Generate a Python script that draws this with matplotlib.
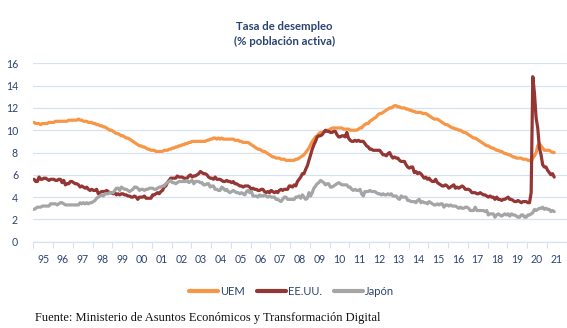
"""
Tasa de desempleo: UEM, EE.UU. y Japón, datos mensuales 1995-2021.
"""

import matplotlib

matplotlib.use("Agg")

import matplotlib.pyplot as plt
import numpy as np
from matplotlib.ticker import FixedLocator, NullFormatter

# Monthly unemployment rates (% of labour force), Jan-1995 .. May-2021
uem = [
    10.7, 10.6, 10.6, 10.6, 10.5, 10.6, 10.6, 10.6, 10.6, 10.7, 10.7, 10.7,  # 1995
    10.7, 10.8, 10.8, 10.8, 10.8, 10.8, 10.8, 10.8, 10.8, 10.9, 10.9, 10.9,  # 1996
    10.9, 10.9, 10.9, 11.0, 10.9, 10.9, 10.8, 10.8, 10.8, 10.7, 10.7, 10.7,  # 1997
    10.6, 10.6, 10.5, 10.5, 10.4, 10.4, 10.3, 10.3, 10.2, 10.1, 10.0, 10.0,  # 1998
    9.9, 9.8, 9.7, 9.7, 9.6, 9.5, 9.5, 9.4, 9.3, 9.3, 9.2, 9.1,  # 1999
    9.0, 8.9, 8.8, 8.7, 8.6, 8.6, 8.5, 8.5, 8.4, 8.3, 8.3, 8.2,  # 2000
    8.2, 8.2, 8.1, 8.1, 8.1, 8.1, 8.1, 8.2, 8.2, 8.2, 8.3, 8.3,  # 2001
    8.4, 8.4, 8.5, 8.5, 8.6, 8.6, 8.7, 8.7, 8.8, 8.8, 8.9, 8.9,  # 2002
    9.0, 9.0, 9.0, 9.0, 9.0, 9.0, 9.0, 9.0, 9.0, 9.1, 9.1, 9.2,  # 2003
    9.2, 9.3, 9.3, 9.2, 9.3, 9.2, 9.3, 9.2, 9.2, 9.2, 9.2, 9.2,  # 2004
    9.2, 9.2, 9.1, 9.1, 9.1, 9.0, 9.0, 8.9, 8.9, 8.9, 8.9, 8.8,  # 2005
    8.7, 8.6, 8.5, 8.4, 8.3, 8.3, 8.2, 8.1, 8.1, 8.0, 7.9, 7.8,  # 2006
    7.7, 7.6, 7.6, 7.5, 7.5, 7.5, 7.4, 7.4, 7.4, 7.3, 7.3, 7.3,  # 2007
    7.3, 7.3, 7.3, 7.4, 7.4, 7.5, 7.6, 7.7, 7.8, 8.0, 8.2, 8.4,  # 2008
    8.7, 9.0, 9.2, 9.4, 9.5, 9.7, 9.8, 9.8, 9.9, 9.9, 10.0, 10.0,  # 2009
    10.1, 10.2, 10.2, 10.2, 10.2, 10.2, 10.2, 10.2, 10.1, 10.1, 10.1, 10.1,  # 2010
    10.0, 10.0, 10.0, 10.0, 10.0, 10.1, 10.2, 10.2, 10.4, 10.5, 10.6, 10.6,  # 2011
    10.8, 10.9, 11.0, 11.1, 11.2, 11.4, 11.5, 11.5, 11.6, 11.7, 11.8, 11.9,  # 2012
    12.0, 12.0, 12.1, 12.2, 12.2, 12.1, 12.1, 12.0, 12.0, 12.0, 11.9, 11.9,  # 2013
    11.8, 11.8, 11.7, 11.7, 11.6, 11.6, 11.6, 11.6, 11.5, 11.5, 11.5, 11.4,  # 2014
    11.3, 11.2, 11.1, 11.0, 11.0, 11.0, 10.9, 10.8, 10.7, 10.6, 10.5, 10.5,  # 2015
    10.4, 10.3, 10.2, 10.2, 10.1, 10.1, 10.0, 10.0, 9.9, 9.8, 9.8, 9.7,  # 2016
    9.6, 9.5, 9.4, 9.3, 9.3, 9.2, 9.1, 9.0, 8.9, 8.8, 8.7, 8.6,  # 2017
    8.6, 8.5, 8.4, 8.4, 8.3, 8.2, 8.2, 8.1, 8.1, 8.0, 7.9, 7.9,  # 2018
    7.8, 7.8, 7.7, 7.6, 7.6, 7.5, 7.5, 7.5, 7.5, 7.4, 7.4, 7.4,  # 2019
    7.3, 7.3, 7.2, 7.5, 7.7, 8.0, 8.6, 8.8, 8.6, 8.4, 8.2, 8.2,  # 2020
    8.2, 8.2, 8.1, 8.0, 8.0,  # 2021
]

eeuu = [
    5.6, 5.4, 5.4, 5.8, 5.6, 5.6, 5.7, 5.7, 5.6, 5.5, 5.6, 5.6,  # 1995
    5.6, 5.5, 5.5, 5.6, 5.6, 5.3, 5.5, 5.1, 5.2, 5.2, 5.4, 5.4,  # 1996
    5.3, 5.2, 5.2, 5.1, 4.9, 5.0, 4.9, 4.8, 4.9, 4.7, 4.6, 4.7,  # 1997
    4.6, 4.6, 4.7, 4.3, 4.4, 4.5, 4.5, 4.5, 4.6, 4.5, 4.4, 4.4,  # 1998
    4.3, 4.4, 4.2, 4.3, 4.2, 4.3, 4.3, 4.2, 4.2, 4.1, 4.1, 4.0,  # 1999
    4.0, 4.1, 4.0, 3.8, 4.0, 4.0, 4.0, 4.1, 3.9, 3.9, 3.9, 3.9,  # 2000
    4.2, 4.2, 4.3, 4.4, 4.3, 4.5, 4.6, 4.9, 5.0, 5.3, 5.5, 5.7,  # 2001
    5.7, 5.7, 5.7, 5.9, 5.8, 5.8, 5.8, 5.7, 5.7, 5.7, 5.9, 6.0,  # 2002
    5.8, 5.9, 5.9, 6.0, 6.1, 6.3, 6.2, 6.1, 6.1, 6.0, 5.8, 5.7,  # 2003
    5.7, 5.6, 5.8, 5.6, 5.6, 5.6, 5.5, 5.4, 5.4, 5.5, 5.4, 5.4,  # 2004
    5.3, 5.4, 5.2, 5.2, 5.1, 5.0, 5.0, 4.9, 5.0, 5.0, 5.0, 4.9,  # 2005
    4.7, 4.8, 4.7, 4.7, 4.6, 4.6, 4.7, 4.7, 4.5, 4.4, 4.5, 4.4,  # 2006
    4.6, 4.5, 4.4, 4.5, 4.4, 4.6, 4.7, 4.6, 4.7, 4.7, 4.7, 5.0,  # 2007
    5.0, 4.9, 5.1, 5.0, 5.4, 5.6, 5.8, 6.1, 6.1, 6.5, 6.8, 7.3,  # 2008
    7.8, 8.3, 8.7, 9.0, 9.4, 9.5, 9.5, 9.6, 9.8, 10.0, 9.9, 9.9,  # 2009
    9.8, 9.8, 9.9, 9.9, 9.6, 9.4, 9.4, 9.5, 9.5, 9.4, 9.8, 9.3,  # 2010
    9.1, 9.0, 9.0, 9.1, 9.0, 9.1, 9.0, 9.0, 9.0, 8.8, 8.6, 8.5,  # 2011
    8.3, 8.3, 8.2, 8.2, 8.2, 8.2, 8.2, 8.0, 7.8, 7.8, 7.7, 7.9,  # 2012
    8.0, 7.7, 7.5, 7.6, 7.5, 7.5, 7.3, 7.2, 7.2, 7.2, 6.9, 6.7,  # 2013
    6.6, 6.7, 6.7, 6.2, 6.3, 6.1, 6.2, 6.1, 5.9, 5.7, 5.8, 5.6,  # 2014
    5.7, 5.5, 5.4, 5.4, 5.6, 5.3, 5.2, 5.1, 5.0, 5.0, 5.1, 5.0,  # 2015
    4.8, 4.9, 5.0, 5.1, 4.8, 4.9, 4.8, 4.9, 5.0, 4.9, 4.7, 4.7,  # 2016
    4.7, 4.6, 4.4, 4.4, 4.4, 4.3, 4.3, 4.4, 4.3, 4.2, 4.2, 4.1,  # 2017
    4.0, 4.1, 4.0, 4.0, 3.8, 4.0, 3.8, 3.8, 3.7, 3.8, 3.8, 3.9,  # 2018
    4.0, 3.8, 3.8, 3.7, 3.6, 3.6, 3.7, 3.6, 3.5, 3.6, 3.6, 3.6,  # 2019
    3.5, 3.5, 4.4, 14.8, 13.3, 11.1, 10.2, 8.4, 7.8, 6.9, 6.7, 6.7,  # 2020
    6.4, 6.2, 6.0, 6.1, 5.8,  # 2021
]

japon = [
    2.9, 3.0, 3.1, 3.1, 3.1, 3.2, 3.2, 3.2, 3.2, 3.2, 3.4, 3.4,  # 1995
    3.4, 3.4, 3.3, 3.4, 3.5, 3.5, 3.4, 3.3, 3.3, 3.3, 3.3, 3.3,  # 1996
    3.3, 3.3, 3.3, 3.3, 3.5, 3.4, 3.5, 3.4, 3.5, 3.4, 3.5, 3.5,  # 1997
    3.6, 3.7, 3.9, 4.0, 4.1, 4.2, 4.1, 4.3, 4.3, 4.3, 4.4, 4.4,  # 1998
    4.4, 4.6, 4.8, 4.8, 4.6, 4.9, 4.8, 4.7, 4.7, 4.6, 4.5, 4.6,  # 1999
    4.7, 4.9, 4.9, 4.8, 4.6, 4.7, 4.7, 4.6, 4.7, 4.7, 4.8, 4.8,  # 2000
    4.8, 4.7, 4.7, 4.8, 4.9, 4.9, 5.0, 5.0, 5.2, 5.3, 5.4, 5.5,  # 2001
    5.3, 5.3, 5.2, 5.3, 5.4, 5.4, 5.4, 5.4, 5.4, 5.5, 5.3, 5.4,  # 2002
    5.5, 5.2, 5.4, 5.4, 5.4, 5.3, 5.3, 5.1, 5.1, 5.2, 5.2, 4.9,  # 2003
    5.0, 5.0, 4.7, 4.7, 4.6, 4.6, 4.9, 4.8, 4.6, 4.7, 4.5, 4.4,  # 2004
    4.5, 4.6, 4.5, 4.4, 4.4, 4.3, 4.4, 4.3, 4.2, 4.5, 4.6, 4.4,  # 2005
    4.5, 4.1, 4.1, 4.1, 4.0, 4.2, 4.1, 4.1, 4.2, 4.1, 4.0, 4.1,  # 2006
    4.0, 4.0, 4.0, 3.8, 3.8, 3.7, 3.6, 3.8, 4.0, 4.0, 3.8, 3.8,  # 2007
    3.8, 3.8, 3.8, 4.0, 4.0, 4.1, 3.9, 4.2, 4.0, 3.8, 3.9, 4.4,  # 2008
    4.1, 4.4, 4.8, 5.0, 5.2, 5.3, 5.5, 5.4, 5.3, 5.1, 5.2, 5.2,  # 2009
    4.9, 4.9, 5.0, 5.1, 5.2, 5.3, 5.2, 5.1, 5.1, 5.1, 5.1, 4.9,  # 2010
    4.9, 4.7, 4.6, 4.7, 4.6, 4.6, 4.7, 4.3, 4.1, 4.5, 4.5, 4.5,  # 2011
    4.6, 4.5, 4.5, 4.5, 4.4, 4.3, 4.3, 4.2, 4.3, 4.2, 4.2, 4.3,  # 2012
    4.2, 4.3, 4.1, 4.1, 4.1, 3.9, 3.8, 4.1, 4.0, 4.0, 4.0, 3.7,  # 2013
    3.7, 3.6, 3.6, 3.6, 3.5, 3.7, 3.8, 3.5, 3.6, 3.5, 3.5, 3.4,  # 2014
    3.6, 3.5, 3.4, 3.3, 3.3, 3.4, 3.3, 3.4, 3.4, 3.1, 3.3, 3.3,  # 2015
    3.2, 3.3, 3.2, 3.2, 3.2, 3.1, 3.0, 3.1, 3.0, 3.0, 3.1, 3.1,  # 2016
    3.0, 2.8, 2.8, 2.8, 3.1, 2.8, 2.8, 2.8, 2.8, 2.8, 2.7, 2.8,  # 2017
    2.4, 2.5, 2.5, 2.5, 2.2, 2.4, 2.5, 2.4, 2.3, 2.4, 2.5, 2.4,  # 2018
    2.5, 2.3, 2.5, 2.4, 2.4, 2.3, 2.2, 2.2, 2.4, 2.4, 2.2, 2.2,  # 2019
    2.4, 2.4, 2.5, 2.6, 2.9, 2.8, 2.9, 3.0, 3.0, 3.1, 2.9, 3.0,  # 2020
    2.9, 2.9, 2.7, 2.8, 2.7,  # 2021
]

series_names = ["UEM", "EE.UU.", "Japón"]
year_labels = ["95", "96", "97", "98", "99", "00", "01", "02", "03", "04",
               "05", "06", "07", "08", "09", "10", "11", "12", "13", "14",
               "15", "16", "17", "18", "19", "20", "21"]
y_ticks = [0, 2, 4, 6, 8, 10, 12, 14, 16]

START_YEAR = 1995

NAVY = "#2B4372"
GRID = "#D6E2F1"
COLORS = ["#F79646", "#943634", "#A5A5A5"]


def month_positions(n: int) -> np.ndarray:
    """Fractional-year position of each monthly observation."""
    return START_YEAR + (np.arange(n) + 0.5) / 12.0


plt.rcParams["font.family"] = ["Lato", "DejaVu Sans"]

fig = plt.figure(figsize=(5.67, 3.28), dpi=100)
ax = fig.add_axes([0.0587, 0.263, 0.9405, 0.544])

for values, name, color in zip([uem, eeuu, japon], series_names, COLORS):
    ax.plot(
        month_positions(len(values)),
        values,
        color=color,
        linewidth=2.3,
        label=name,
        solid_joinstyle="round",
        solid_capstyle="round",
    )

n_years = len(year_labels)
ax.set_xlim(START_YEAR, START_YEAR + n_years)
ax.set_ylim(0, 16)

# year boundaries get the tick marks, year centres get the labels
ax.xaxis.set_major_locator(FixedLocator(START_YEAR + np.arange(n_years + 1)))
ax.xaxis.set_major_formatter(NullFormatter())
ax.xaxis.set_minor_locator(FixedLocator(START_YEAR + np.arange(n_years) + 0.5))
ax.set_xticklabels(year_labels, minor=True)
ax.tick_params(axis="x", which="major", length=4.5, width=0.8, color=GRID)
ax.tick_params(axis="x", which="minor", length=0, pad=9,
               labelsize=7.6, labelcolor=NAVY)

ax.set_yticks(y_ticks)
ax.tick_params(axis="y", length=0, pad=11, labelsize=7.6, labelcolor=NAVY)

ax.grid(axis="y", color=GRID, linewidth=0.9)
ax.set_axisbelow(True)
for side in ["top", "right", "left"]:
    ax.spines[side].set_visible(False)
ax.spines["bottom"].set_color(GRID)
ax.spines["bottom"].set_linewidth(0.9)

fig.text(0.502, 0.897, "Tasa de desempleo\n(% población activa)",
         ha="center", va="center", fontsize=8.2, fontweight="bold",
         color=NAVY, linespacing=1.45)

handles, labels = ax.get_legend_handles_labels()
leg = fig.legend(
    handles,
    labels,
    loc="center",
    bbox_to_anchor=(0.514, 0.112),
    ncol=3,
    frameon=False,
    fontsize=8.0,
    handlelength=2.6,
    handletextpad=0.2,
    columnspacing=1.1,
)
for text in leg.get_texts():
    text.set_color(NAVY)
for line in leg.get_lines():
    line.set_linewidth(3.0)

fig.text(0.062, 0.03,
         "Fuente: Ministerio de Asuntos Económicos y Transformación Digital",
         ha="left", va="center", fontsize=9.0, family="Liberation Serif",
         color="#111111")

fig.savefig("out.png", dpi=100)
plt.close(fig)
